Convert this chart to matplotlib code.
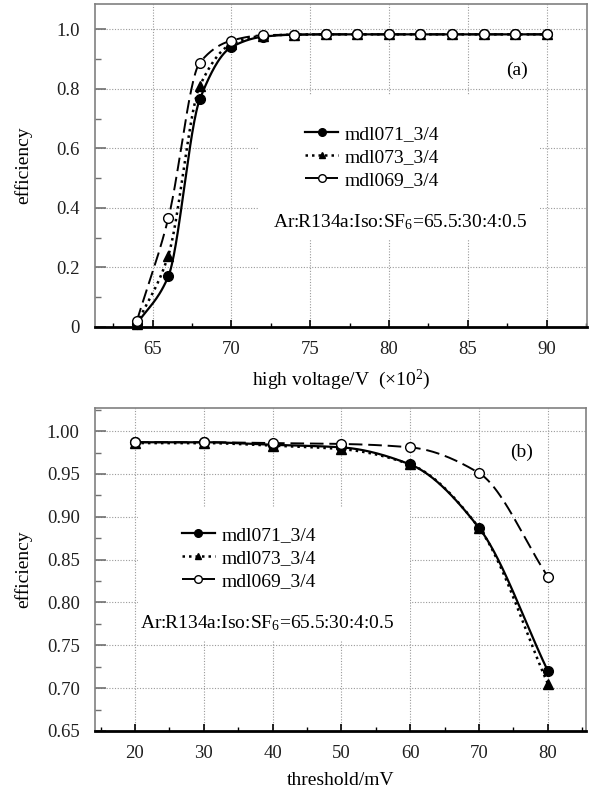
import numpy as np
import matplotlib
matplotlib.use("Agg")
import matplotlib.pyplot as plt
from matplotlib.patches import Rectangle
from matplotlib.ticker import MultipleLocator, FormatStrFormatter

plt.rcParams["font.family"] = ["Liberation Serif", "DejaVu Serif"]
plt.rcParams["mathtext.fontset"] = "custom"
plt.rcParams["mathtext.rm"] = "Liberation Serif"
plt.rcParams["mathtext.it"] = "Liberation Serif:italic"

# (a) efficiency vs high voltage (x100 V)
hv = [64, 66, 68, 70, 72, 74, 76, 78, 80, 82, 84, 86, 88, 90]
eff_071_a = [0.01, 0.17, 0.765, 0.94, 0.975, 0.982, 0.983, 0.983, 0.983, 0.983, 0.983, 0.983, 0.983, 0.983]
eff_073_a = [0.01, 0.24, 0.81, 0.95, 0.978, 0.982, 0.983, 0.983, 0.983, 0.983, 0.983, 0.983, 0.983, 0.983]
eff_069_a = [0.02, 0.365, 0.888, 0.962, 0.98, 0.982, 0.983, 0.983, 0.983, 0.983, 0.983, 0.983, 0.983, 0.983]

# (b) efficiency vs threshold (mV)
thr = [20, 30, 40, 50, 60, 70, 80]
eff_071_b = [0.987, 0.987, 0.984, 0.981, 0.961, 0.887, 0.720]
eff_073_b = [0.986, 0.986, 0.983, 0.979, 0.961, 0.887, 0.705]
eff_069_b = [0.987, 0.987, 0.986, 0.985, 0.981, 0.951, 0.830]

labels = ["mdl071_3/4", "mdl073_3/4", "mdl069_3/4"]
gas_text = "Ar:R134a:Iso:SF$_6$=65.5:30:4:0.5"


def pchip(x, y, xs):
    # monotone cubic curve through the points, only for drawing
    x = np.asarray(x, float)
    y = np.asarray(y, float)
    h = np.diff(x)
    d = np.diff(y) / h
    m = np.zeros_like(y)
    m[0] = d[0]
    m[-1] = d[-1]
    for k in range(1, len(x) - 1):
        if d[k - 1] * d[k] <= 0:
            m[k] = 0
        else:
            w1 = 2 * h[k] + h[k - 1]
            w2 = h[k] + 2 * h[k - 1]
            m[k] = (w1 + w2) / (w1 / d[k - 1] + w2 / d[k])
    idx = np.clip(np.searchsorted(x, xs) - 1, 0, len(x) - 2)
    t = (xs - x[idx]) / h[idx]
    h00 = 2 * t**3 - 3 * t**2 + 1
    h10 = t**3 - 2 * t**2 + t
    h01 = -2 * t**3 + 3 * t**2
    h11 = t**3 - t**2
    return h00 * y[idx] + h10 * h[idx] * m[idx] + h01 * y[idx + 1] + h11 * h[idx] * m[idx + 1]


styles = [
    dict(ls="-", marker="o", mfc="black", ms=7, lw=1.6),
    dict(ls=(0, (1, 1.6)), marker="^", mfc="black", ms=6.5, lw=1.8),
    dict(ls=(0, (7, 3)), marker="o", mfc="white", ms=7, lw=1.4),
]

FS = 14
TICK_FS = 13.5


def draw(ax, x, series):
    xs = np.linspace(x[0], x[-1], 400)
    handles = []
    for ys, st, lab in zip(series, styles, labels):
        ax.plot(xs, pchip(x, ys, xs), color="black", ls=st["ls"], lw=st["lw"], zorder=3)
        ax.plot(x, ys, ls="none", marker=st["marker"], mfc=st["mfc"], mec="black",
                ms=st["ms"], mew=1.0, zorder=4, clip_on=False)
        h, = ax.plot([], [], color="black", ls=st["ls"], lw=st["lw"], marker=st["marker"],
                     mfc=st["mfc"], mec="black", ms=st["ms"] - 1.5, mew=1.0)
        handles.append(h)
    return handles


def style_axes(ax):
    ax.grid(True, which="major", color="#9a9a9a", ls=(0, (1, 1.5)), lw=0.8)
    ax.set_axisbelow(True)
    for s in ["top", "right", "left"]:
        ax.spines[s].set_color("#808080")
        ax.spines[s].set_linewidth(1.2)
    ax.spines["bottom"].set_color("black")
    ax.spines["bottom"].set_linewidth(2.0)
    ax.tick_params(axis="both", which="both", direction="in", top=False, right=False,
                   labelsize=TICK_FS, colors="#202020")
    ax.tick_params(axis="y", which="major", length=8, width=1.2, pad=11, color="#707070")
    ax.tick_params(axis="y", which="minor", length=4, width=1.0, color="#707070")
    ax.tick_params(axis="x", which="major", length=5, width=1.2, pad=10, color="black")
    ax.tick_params(axis="x", which="minor", length=3, width=1.0, color="black")


fig = plt.figure(figsize=(5.92, 7.96), dpi=100)

# top panel
ax1 = fig.add_axes([0.1605, 0.5892, 0.8306, 0.4058])
style_axes(ax1)
h1 = draw(ax1, hv, [eff_071_a, eff_073_a, eff_069_a])
ax1.set_xlim(61.35, 92.55)
ax1.set_ylim(0, 1.085)
ax1.xaxis.set_major_locator(MultipleLocator(5))
ax1.xaxis.set_minor_locator(MultipleLocator(2.5))
ax1.yaxis.set_minor_locator(MultipleLocator(0.1))
ax1.set_yticks([0, 0.2, 0.4, 0.6, 0.8, 1.0], ["0", "0.2", "0.4", "0.6", "0.8", "1.0"])
ax1.add_patch(Rectangle((0.3315, 0.269), 0.574, 0.449, transform=ax1.transAxes,
                        facecolor="white", edgecolor="none", zorder=1.8))
ax1.legend(handles=h1, labels=labels, loc="center left", bbox_to_anchor=(0.427, 0.526),
           frameon=False, fontsize=FS, borderpad=0, borderaxespad=0, handlelength=1.7,
           handletextpad=0.35, labelspacing=0.28, numpoints=1)
ax1.text(0.62, 0.3245, gas_text, transform=ax1.transAxes, ha="center", va="center", fontsize=FS)
ax1.text(0.858, 0.795, "(a)", transform=ax1.transAxes, ha="center", va="center", fontsize=FS)
ax1.set_xlabel("high voltage/V  (\u00d710$^2$)", fontsize=FS, labelpad=7)
ax1.set_ylabel("efficiency", fontsize=FS)
ax1.yaxis.set_label_coords(-0.128, 0.5)

# bottom panel
ax2 = fig.add_axes([0.1605, 0.0817, 0.8289, 0.4058])
style_axes(ax2)
h2 = draw(ax2, thr, [eff_071_b, eff_073_b, eff_069_b])
ax2.set_xlim(14.2, 85.5)
ax2.set_ylim(0.65, 1.027)
ax2.xaxis.set_major_locator(MultipleLocator(10))
ax2.xaxis.set_minor_locator(MultipleLocator(5))
ax2.yaxis.set_major_locator(MultipleLocator(0.05))
ax2.yaxis.set_minor_locator(MultipleLocator(0.025))
ax2.yaxis.set_major_formatter(FormatStrFormatter("%.2f"))
ax2.add_patch(Rectangle((0.0876, 0.282), 0.555, 0.408, transform=ax2.transAxes,
                        facecolor="white", edgecolor="none", zorder=1.8))
ax2.legend(handles=h2, labels=labels, loc="center left", bbox_to_anchor=(0.177, 0.5356),
           frameon=False, fontsize=FS, borderpad=0, borderaxespad=0, handlelength=1.7,
           handletextpad=0.35, labelspacing=0.28, numpoints=1)
ax2.text(0.3505, 0.3344, gas_text, transform=ax2.transAxes, ha="center", va="center", fontsize=FS)
ax2.text(0.870, 0.864, "(b)", transform=ax2.transAxes, ha="center", va="center", fontsize=FS)
ax2.set_xlabel("threshold/mV", fontsize=FS, labelpad=7)
ax2.set_ylabel("efficiency", fontsize=FS)
ax2.yaxis.set_label_coords(-0.128, 0.5)

fig.savefig("out.png", dpi=100)
